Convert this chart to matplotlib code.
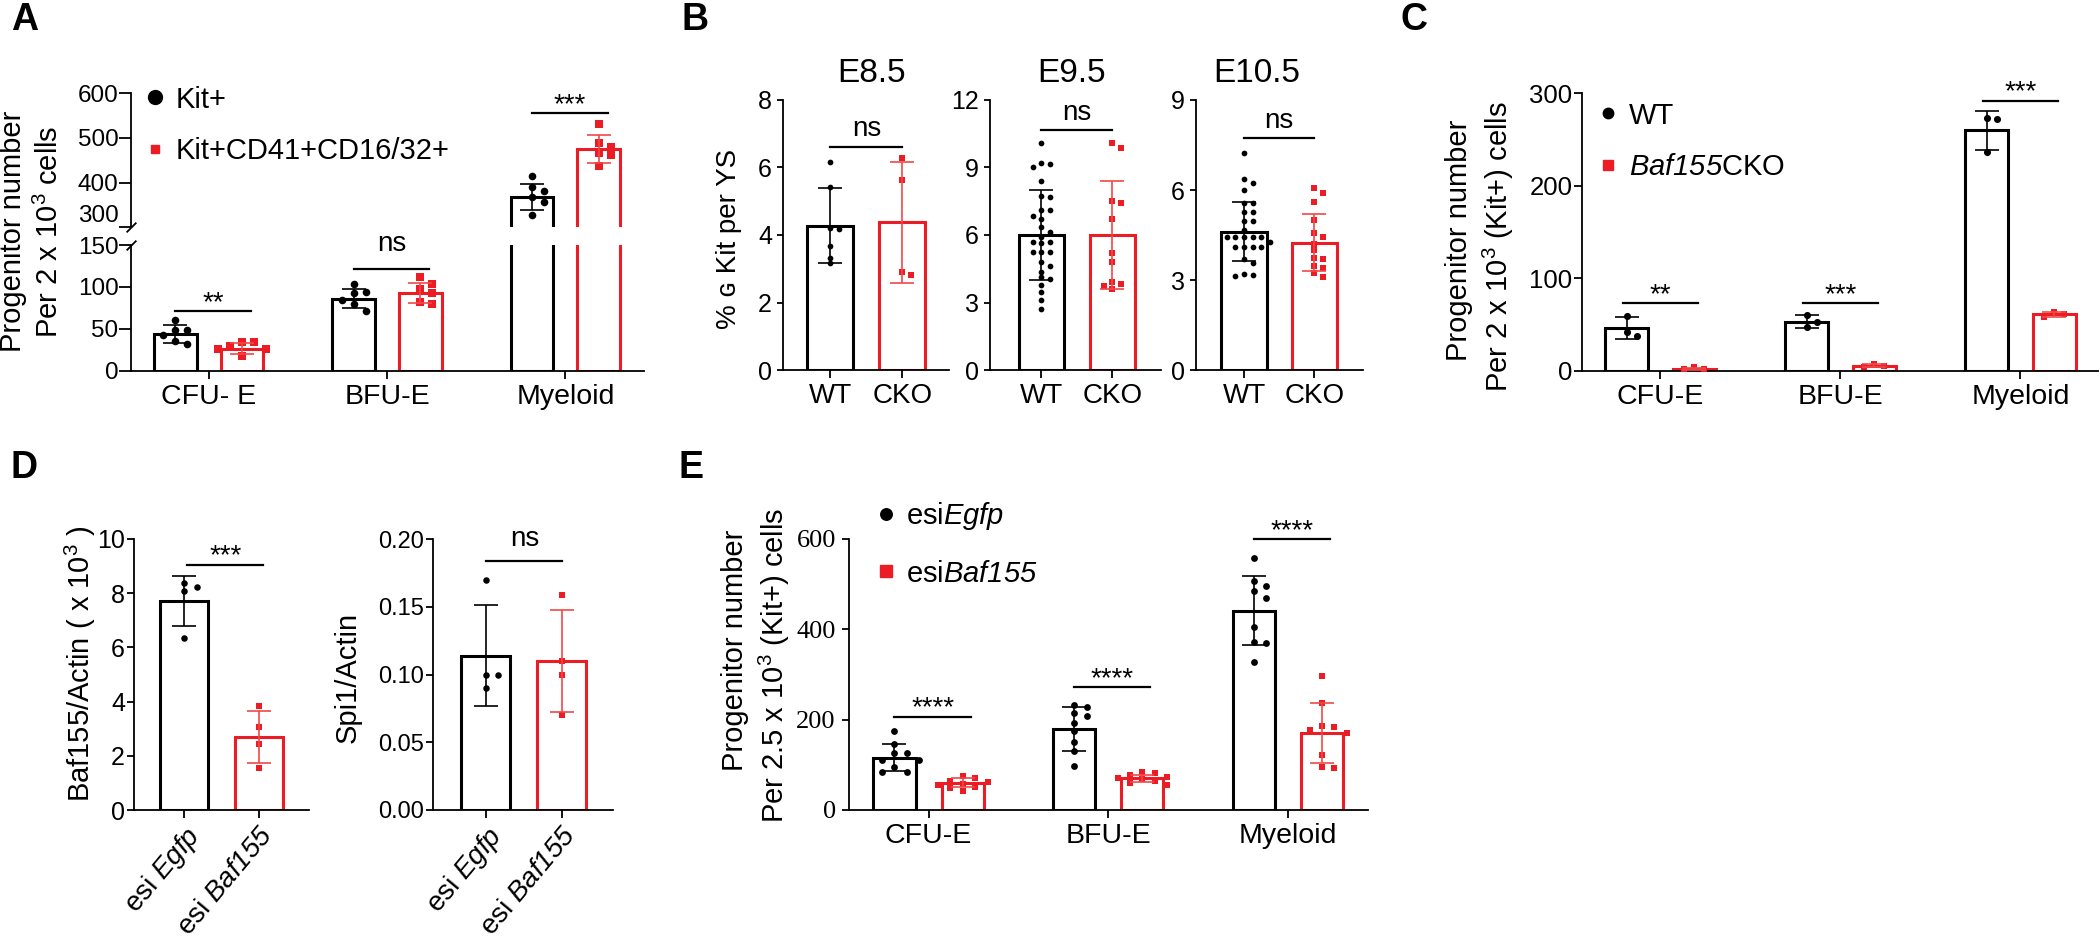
import numpy as np
import matplotlib
matplotlib.use('Agg')
import matplotlib.pyplot as plt
from matplotlib.lines import Line2D

plt.rcParams['font.family'] = ['Liberation Sans', 'DejaVu Sans']
plt.rcParams['mathtext.fontset'] = 'custom'
plt.rcParams['mathtext.rm'] = 'Liberation Sans'
plt.rcParams['mathtext.it'] = 'Liberation Sans:italic'
plt.rcParams['mathtext.sf'] = 'Liberation Sans:italic'
plt.rcParams['mathtext.bf'] = 'Liberation Sans:bold'

# ======================= DATA =======================
# Panel A
A_categories = ['CFU- E', 'BFU-E', 'Myeloid']
A_labels = ['Kit+', 'Kit+CD41+CD16/32+']
A_kit_mean = [44, 86, 369]
A_kit_sd = [10.8, 11.7, 29.1]
A_kit_points = [[61, 49, 48, 43, 36, 32],
                [103, 93, 93.5, 84, 80, 71],
                [415, 391, 381, 369, 357, 328]]
A_cd41_mean = [26, 93, 475]
A_cd41_sd = [6.6, 11.7, 30.6]
A_cd41_points = [[34, 34, 29, 26, 25.5, 18],
                 [112, 103, 97, 93, 80, 82],
                 [531, 488, 480, 466, 462, 438]]
A_sig = ['**', 'ns', '***']
A_sig_y = [70.7, 121.6, 555]

# Panel B
B_titles = ['E8.5', 'E9.5', 'E10.5']
B_groups = ['WT', 'CKO']
B_E85_wt = [6.17, 5.41, 4.22, 4.19, 3.68, 3.33, 3.16]
B_E85_cko = [6.27, 5.63, 2.81, 2.91]
B_E95_wt = [10.1, 9.04, 9.21, 9.17, 8.39, 7.73, 7.69, 7.1, 7.1, 6.86, 6.37, 6.7, 6.15,
            5.93, 5.7, 5.7, 5.66, 5.26, 5.26, 5.26, 4.64, 4.81, 4.37, 4.03, 4.12, 3.78,
            3.45, 3.11, 2.71]
B_E95_cko = [10.1, 9.88, 7.44, 7.51, 6.7, 5.19, 4.78, 3.9, 3.83, 3.74, 3.6]
B_E105_wt = [7.22, 6.36, 6.24, 6.0, 5.55, 5.55, 5.26, 5.26, 4.95, 4.97, 4.67, 4.42, 4.42,
             4.42, 4.42, 4.42, 4.28, 4.11, 4.11, 4.11, 4.11, 3.69, 3.58, 3.13, 3.2, 3.17]
B_E105_cko = [6.06, 5.89, 5.6, 5.0, 4.58, 4.42, 4.19, 4.0, 3.72, 3.7, 3.48, 3.39, 3.24, 3.11]
B_wt_mean = [4.28, 6.0, 4.61]
B_wt_sd = [1.1, 1.98, 0.99]
B_cko_mean = [4.38, 6.0, 4.24]
B_cko_sd = [1.79, 2.42, 0.955]
B_ymax = [8, 12, 9]
B_ystep = [2, 3, 3]
B_sig = ['ns', 'ns', 'ns']
B_sig_y = [6.62, 10.67, 7.72]

# Panel C
C_categories = ['CFU-E', 'BFU-E', 'Myeloid']
C_labels = ['WT', '$\\mathsf{Baf155}$CKO']
C_wt_mean = [46, 53, 260]
C_wt_sd = [11.6, 7.0, 21.0]
C_wt_points = [[59.2, 37.5, 42.2], [60.3, 53.1, 46.9], [272.9, 271.9, 236.3]]
C_cko_mean = [2.2, 5.3, 61]
C_cko_sd = [1.2, 1.6, 2.7]
C_cko_points = [[1.5, 3.7, 1.5], [3.7, 6.9, 5.5], [58.4, 63.8, 61.3]]
C_sig = ['**', '***', '***']
C_sig_y = [72.9, 72.9, 292]

# Panel D
D_groups = ['esi $\\mathsf{Egfp}$', 'esi $\\mathsf{Baf155}$']
D_baf_egfp = [8.24, 8.36, 8.09, 6.36]
D_baf_baf = [3.85, 3.05, 2.44, 1.56]
D_baf_mean = [7.72, 2.70]
D_baf_sd = [0.92, 0.97]
D_spi_egfp = [0.170, 0.0997, 0.0997, 0.0904]
D_spi_baf = [0.159, 0.110, 0.0997, 0.070]
D_spi_mean = [0.114, 0.110]
D_spi_sd = [0.037, 0.0375]
D_sig = ['***', 'ns']
D_sig_y = [9.04, 0.184]

# Panel E
E_categories = ['CFU-E', 'BFU-E', 'Myeloid']
E_labels = ['esi$\\mathsf{Egfp}$', 'esi$\\mathsf{Baf155}$']
E_egfp_mean = [116, 179, 441]
E_egfp_sd = [29.5, 48, 76]
E_egfp_points = [[175.6, 146.1, 125.5, 125.5, 110.8, 110.8, 96, 85, 85],
                 [232, 228, 215, 208, 192, 175, 150, 130, 98],
                 [557, 506, 495, 484, 469, 406, 373, 369, 327]]
E_baf_mean = [60, 70, 171]
E_baf_sd = [10, 8, 66]
E_baf_points = [[75, 70, 65, 62, 58, 55, 50, 48, 42],
                [85, 82, 78, 74, 70, 68, 65, 60, 55],
                [297, 238, 183, 186, 171, 177, 122, 92, 95]]
E_sig = ['****', '****', '****']
E_sig_y = [206.6, 271.6, 599.3]

# ======================= STYLE / LAYOUT =======================
BLACK = '#000000'
RED = '#ec1c24'
RED_ERR = '#f04848'
W, H = 2100, 940
fig = plt.figure(figsize=(W / 100, H / 100), dpi=100)
LW_AX = 1.3
LW_BAR = 2.2


def rect(l, t, r, b):
    return [l / W, 1 - b / H, (r - l) / W, (b - t) / H]


def style(ax, ylen, ypad, ysize, xlen=6, xpad=3.5, xsize=20.5, show_bottom=True):
    ax.spines['top'].set_visible(False)
    ax.spines['right'].set_visible(False)
    ax.spines['left'].set_linewidth(LW_AX)
    ax.spines['bottom'].set_linewidth(LW_AX)
    ax.tick_params(axis='y', length=ylen, width=LW_AX, pad=ypad, labelsize=ysize)
    ax.tick_params(axis='x', length=xlen, width=LW_AX, pad=xpad, labelsize=xsize)
    if not show_bottom:
        ax.spines['bottom'].set_visible(False)
        ax.tick_params(axis='x', bottom=False, labelbottom=False)
    ax.set_facecolor('none')


def swarm_x(ax, xc, vals, sp, thr):
    tr = ax.transData
    x0 = tr.transform((xc, 0))[0]
    ys = [tr.transform((xc, v))[1] for v in vals]
    order = np.argsort(ys)[::-1]
    cands = [0]
    for k in range(1, 25):
        cands += [k, -k]
    placed = []
    xs = [0.0] * len(vals)
    for i in order:
        y = ys[i]
        xp = x0
        for c in cands:
            xp = x0 + c * sp
            if all(not (abs(xp - px) < sp * 0.99 and abs(y - py) < thr) for px, py in placed):
                break
        placed.append((xp, y))
        xs[i] = tr.inverted().transform((xp, y))[0]
    return xs


def draw_group(axes, sax, xc, width, mean, sd, pts, color, marker, s, sp, thr):
    xs = swarm_x(sax, xc, pts, sp, thr)
    ecol = BLACK if color == BLACK else RED_ERR
    for ax in axes:
        ax.bar([xc], [mean], width, facecolor='white', edgecolor=color,
               linewidth=LW_BAR, zorder=2)
        ax.scatter(xs, pts, s=s, marker=marker, color=color, linewidths=0, zorder=3)
        ax.errorbar([xc], [mean], yerr=[sd], fmt='none', ecolor=ecol, elinewidth=1.2,
                    capsize=8.6, capthick=1.2, zorder=4)


def sig(ax, x1, x2, y, label, off):
    ax.plot([x1, x2], [y, y], color='k', lw=1.6, clip_on=False, zorder=5)
    ax.annotate(label, xy=((x1 + x2) / 2, y), xytext=(0, off), textcoords='offset points',
                ha='center', va='baseline', fontsize=20, annotation_clip=False)


def legend(ax, handles, labels, x_px, y_px, fs, spacing):
    ax.legend(handles, labels, loc='upper left', bbox_to_anchor=(x_px / W, 1 - y_px / H),
              bbox_transform=fig.transFigure, frameon=False, fontsize=fs,
              handlelength=1.0, handletextpad=0.2, labelspacing=spacing,
              borderpad=0, borderaxespad=0, numpoints=1)


def vtext(x_px, y_px, s, fs):
    fig.text(x_px / W, 1 - y_px / H, s, rotation=90, ha='center', va='center', fontsize=fs)


def letter(x_px, y_px, s):
    fig.text(x_px / W, 1 - y_px / H, s, fontsize=27, fontweight='bold', ha='left', va='baseline')


# ---------------- Panel A (broken axis) ----------------
axAu = fig.add_axes(rect(131, 93.3, 644.4, 227.4))
axAl = fig.add_axes(rect(131, 245, 644.4, 370.7))
for ax in (axAu, axAl):
    ax.set_xlim(-0.436, 2.443)
axAu.set_ylim(300, 600)
axAl.set_ylim(0, 150)
style(axAu, 8.5, 0.5, 17.5, show_bottom=False)
style(axAl, 8.5, 0.5, 17.5)
axAu.set_yticks([300, 400, 500, 600], ['300', '400', '500', '600'])
axAu.get_yticklabels()[0].set_va('bottom')
axAl.set_yticks([0, 50, 100, 150], ['0', '50', '100', '150'])
axAl.set_xticks(range(3), A_categories)
offA, wA = 0.187, 0.24
for i in range(3):
    sax = axAu if A_kit_mean[i] > 150 else axAl
    draw_group([axAu, axAl], sax, i - offA, wA, A_kit_mean[i], A_kit_sd[i], A_kit_points[i],
               BLACK, 'o', 30, 12, 8)
    sax = axAu if A_cd41_mean[i] > 150 else axAl
    draw_group([axAu, axAl], sax, i + offA, wA, A_cd41_mean[i], A_cd41_sd[i], A_cd41_points[i],
               RED, 's', 26, 12, 8)
    sax = axAu if A_sig_y[i] > 150 else axAl
    sig(sax, i - offA, i + offA + 0.05, A_sig_y[i], A_sig[i], 12.5 if A_sig[i] == 'ns' else 1.0)
kw = dict(marker=[(-1, -1), (1, 1)], markersize=7, linestyle='none', color='k', mec='k',
          mew=1.3, clip_on=False)
axAu.plot([0], [0], transform=axAu.transAxes, **kw)
axAl.plot([0], [1], transform=axAl.transAxes, **kw)
legend(axAu, [Line2D([], [], marker='o', ls='none', color=BLACK, markersize=10),
              Line2D([], [], marker='s', ls='none', color=RED, markersize=6)],
       A_labels, 140.8, 85.7, 21, 0.8)
vtext(13, 231.7, 'Progenitor number', 21)
vtext(49.4, 231.6, 'Per 2 x 10$^3$ cells', 21)
letter(11, 30, 'A')

# ---------------- Panel B ----------------
B_rects = [(783, 100, 948.5, 370), (990, 100, 1160.5, 370), (1196, 100, 1362.5, 370)]
B_xlims = [(-0.66, 1.643), (-0.724, 1.677), (-0.681, 1.681)]
B_title_x = [0.533, 0.479, 0.366]
B_wt_all = [B_E85_wt, B_E95_wt, B_E105_wt]
B_cko_all = [B_E85_cko, B_E95_cko, B_E105_cko]
for k in range(3):
    ax = fig.add_axes(rect(*B_rects[k]))
    ax.set_xlim(*B_xlims[k])
    ax.set_ylim(0, B_ymax[k])
    style(ax, 4, 4, 18, xsize=20)
    ticks = list(range(0, B_ymax[k] + 1, B_ystep[k]))
    ax.set_yticks(ticks, [str(t) for t in ticks])
    ax.set_xticks([0, 1], B_groups)
    draw_group([ax], ax, 0, 0.64, B_wt_mean[k], B_wt_sd[k], B_wt_all[k], BLACK, 'o', 17, 8.7, 5.5)
    draw_group([ax], ax, 1, 0.64, B_cko_mean[k], B_cko_sd[k], B_cko_all[k], RED, 's', 15, 8.7, 5.5)
    sig(ax, 0, 1, B_sig_y[k], B_sig[k], 7.3)
    ax.set_title(B_titles[k], fontsize=24, pad=13.2, x=B_title_x[k])
vtext(729.5, 239, '% ɢ Kit per YS', 20)
letter(681, 30, 'B')

# ---------------- Panel C ----------------
axC = fig.add_axes(rect(1582, 93.3, 2098, 370.7))
axC.set_xlim(-0.436, 2.431)
axC.set_ylim(0, 300)
style(axC, 5.5, 1.5, 18.5)
axC.set_yticks([0, 100, 200, 300], ['0', '100', '200', '300'])
axC.set_xticks(range(3), C_categories)
offC, wC = 0.188, 0.24
for i in range(3):
    draw_group([axC], axC, i - offC, wC, C_wt_mean[i], C_wt_sd[i], C_wt_points[i],
               BLACK, 'o', 26, 10, 7)
    draw_group([axC], axC, i + offC, wC, C_cko_mean[i], C_cko_sd[i], C_cko_points[i],
               RED, 's', 22, 10, 7)
    sig(axC, i - offC - 0.02, i + offC + 0.02, C_sig_y[i], C_sig[i], 1.0)
legend(axC, [Line2D([], [], marker='o', ls='none', color=BLACK, markersize=7.5),
             Line2D([], [], marker='s', ls='none', color=RED, markersize=7)],
       C_labels, 1593.7, 101.5, 21, 0.8)
vtext(1458.6, 240, 'Progenitor number', 21)
vtext(1498.2, 246.7, 'Per 2 x 10$^3$ (Kit+) cells', 21)
letter(1401, 30, 'C')

# ---------------- Panel D ----------------
axD1 = fig.add_axes(rect(134, 539, 309, 810))
axD2 = fig.add_axes(rect(433, 539, 612.5, 810))
axD1.set_xlim(-0.677, 1.672)
axD2.set_xlim(-0.694, 1.67)
axD1.set_ylim(0, 10)
axD2.set_ylim(0, 0.2)
style(axD1, 5, 1.5, 18)
style(axD2, 5, 1.5, 17)
axD1.set_yticks([0, 2, 4, 6, 8, 10], ['0', '2', '4', '6', '8', '10'])
axD2.set_yticks([0, 0.05, 0.10, 0.15, 0.20], ['0.00', '0.05', '0.10', '0.15', '0.20'])
for ax in (axD1, axD2):
    ax.set_xticks([0, 1], D_groups, rotation=50, ha='right', va='top',
                  rotation_mode='anchor', fontsize=20)
    ax.tick_params(axis='x', pad=2.5)
draw_group([axD1], axD1, 0, 0.645, D_baf_mean[0], D_baf_sd[0], D_baf_egfp, BLACK, 'o', 22, 12.5, 7)
draw_group([axD1], axD1, 1, 0.645, D_baf_mean[1], D_baf_sd[1], D_baf_baf, RED, 's', 20, 12.5, 7)
draw_group([axD2], axD2, 0, 0.64, D_spi_mean[0], D_spi_sd[0], D_spi_egfp, BLACK, 'o', 22, 12.5, 7)
draw_group([axD2], axD2, 1, 0.64, D_spi_mean[1], D_spi_sd[1], D_spi_baf, RED, 's', 20, 12.5, 7)
sig(axD1, 0.04, 1.06, D_sig_y[0], D_sig[0], 1.0)
sig(axD2, 0.01, 1.01, D_sig_y[1], D_sig[1], 10.6)
vtext(80.4, 663.3, 'Baf155/Actin ( x 10$^3$ )', 21)
vtext(348, 677.5, 'Spi1/Actin', 21)
letter(10, 478, 'D')

# ---------------- Panel E ----------------
axE = fig.add_axes(rect(849, 539, 1367.5, 810))
axE.set_xlim(-0.443, 2.443)
axE.set_ylim(0, 600)
style(axE, 5, 4.5, 19)
axE.set_yticks([0, 200, 400, 600], ['0', '200', '400', '600'],
               fontfamily='Liberation Serif', fontsize=19)
axE.set_xticks(range(3), E_categories)
offE, wE = 0.19, 0.235
for i in range(3):
    draw_group([axE], axE, i - offE, wE, E_egfp_mean[i], E_egfp_sd[i], E_egfp_points[i],
               BLACK, 'o', 24, 12.4, 7)
    draw_group([axE], axE, i + offE, wE, E_baf_mean[i], E_baf_sd[i], E_baf_points[i],
               RED, 's', 22, 12.4, 7)
    sig(axE, i - offE, i + offE + 0.045, E_sig_y[i], E_sig[i], 1.0)
legend(axE, [Line2D([], [], marker='o', ls='none', color=BLACK, markersize=8.3),
             Line2D([], [], marker='s', ls='none', color=RED, markersize=8)],
       E_labels, 871.4, 500, 21, 0.95)
vtext(734.7, 650, 'Progenitor number', 21)
vtext(774.5, 665.8, 'Per 2.5 x 10$^3$ (Kit+) cells', 21)
letter(679, 478, 'E')

fig.savefig('out.png', dpi=100)
